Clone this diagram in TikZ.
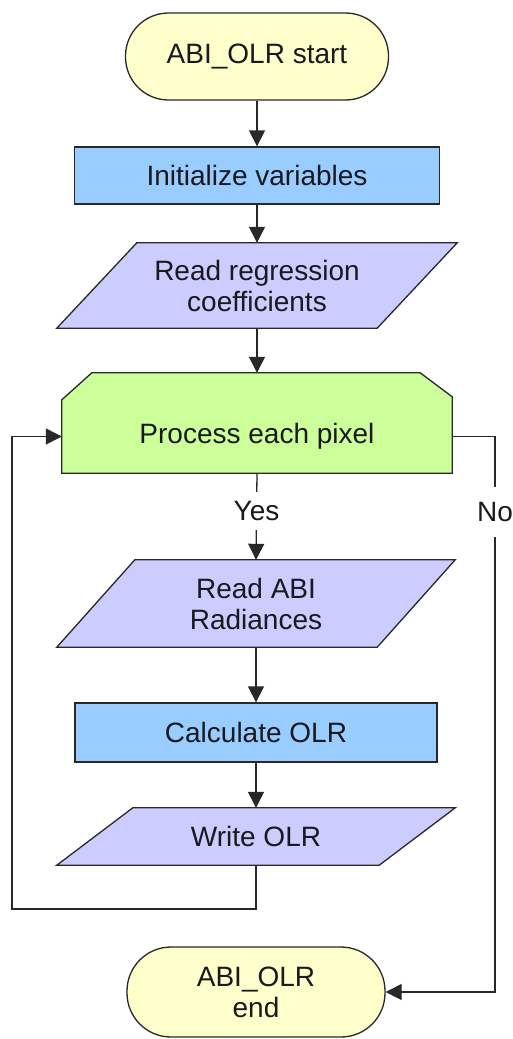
\documentclass[tikz,border=0pt]{standalone}
\usepackage{fontspec}
\setmainfont{Liberation Sans}
\usetikzlibrary{arrows.meta,backgrounds}
\definecolor{termfill}{RGB}{255,255,204}
\definecolor{boxfill}{RGB}{153,204,255}
\definecolor{parafill}{RGB}{204,204,255}
\definecolor{procfill}{RGB}{204,255,153}
\definecolor{linec}{RGB}{40,40,40}
\definecolor{textc}{RGB}{25,25,30}
\begin{document}
\begin{tikzpicture}[x=1pt,y=-1pt,
  every node/.style={font=\fontsize{28}{31}\selectfont, text=textc, align=center},
  term/.style={draw=linec, line width=1.3pt, fill=termfill, rounded corners=43pt, minimum height=87pt, inner sep=0pt},
  procbox/.style={draw=linec, line width=1.3pt, fill=boxfill, inner sep=0pt},
  ghost/.style={inner sep=0pt},
  shapeline/.style={draw=linec, line width=1.3pt, line join=miter},
  arr/.style={draw=linec, line width=1.3pt, -{Triangle[width=16pt,length=16pt]}},
  lbl/.style={fill=white, inner xsep=2pt, inner ysep=9pt}
]
\useasboundingbox (0,0) rectangle (512,1039);

% nodes
\node[term, minimum width=263pt] (st) at (257,56.5) {ABI\_OLR start};
\node[procbox, minimum width=365pt, minimum height=57pt] (init) at (257,175.5) {Initialize variables};
\node[ghost, minimum width=320pt, minimum height=85pt] (rr) at (257,285.5) {Read regression\\coefficients};
\node[ghost, minimum width=390pt, minimum height=73pt] (proc) at (257,436.5) {Process each pixel};
\node[ghost, minimum width=320pt, minimum height=87pt] (ra) at (256,603.5) {Read ABI\\Radiances};
\node[procbox, minimum width=362pt, minimum height=59pt] (calc) at (256,732.5) {Calculate OLR};
\node[ghost, minimum width=322pt, minimum height=57pt] (wr) at (256,836.5) {Write OLR};
\node[term, minimum width=258pt, minimum height=90pt, rounded corners=44pt] (fin) at (256,992) {ABI\_OLR\\end};

% shapes behind text
\begin{scope}[on background layer]
  \fill[white] (0,0) rectangle (512,1039);
  \path[shapeline, fill=parafill] ([xshift=-40pt]rr.south west) -- ([xshift=-40pt]rr.south east)
     -- ([xshift=40pt]rr.north east) -- ([xshift=40pt]rr.north west) -- cycle;
  \path[shapeline, fill=parafill] ([xshift=-39pt]ra.south west) -- ([xshift=-39pt]ra.south east)
     -- ([xshift=39pt]ra.north east) -- ([xshift=39pt]ra.north west) -- cycle;
  \path[shapeline, fill=parafill] ([xshift=-38pt]wr.south west) -- ([xshift=-38pt]wr.south east)
     -- ([xshift=38pt]wr.north east) -- ([xshift=38pt]wr.north west) -- cycle;
  \path[shapeline, fill=procfill] (proc.south west) -- (proc.north west)
     -- ([xshift=30pt,yshift=27pt]proc.north west) -- ([xshift=-32pt,yshift=27pt]proc.north east)
     -- ([yshift=3pt]proc.north east) -- (proc.south east) -- cycle;
\end{scope}

% coordinates for free corners
\coordinate (nr) at (495,0);
\coordinate (lb) at (12,909);

% connectors
\draw[arr] (st.south) -- (init.north);
\draw[arr] (init.south) -- (rr.north);
\draw[arr] (rr.south) -- ([yshift=27pt]proc.north);
\draw[arr] (proc.south) -- node[lbl, pos=0.437]{Yes} (ra.north);
\draw[arr] (ra.south) -- (calc.north);
\draw[arr] (calc.south) -- (wr.north);
\draw[arr] (wr.south) |- (lb) |- (proc.west);
\draw[arr] (proc.east) -- (proc.east -| nr) -- node[lbl, inner ysep=15pt, pos=0.136]{No} (fin.east -| nr) -- (fin.east);
\end{tikzpicture}
\end{document}
